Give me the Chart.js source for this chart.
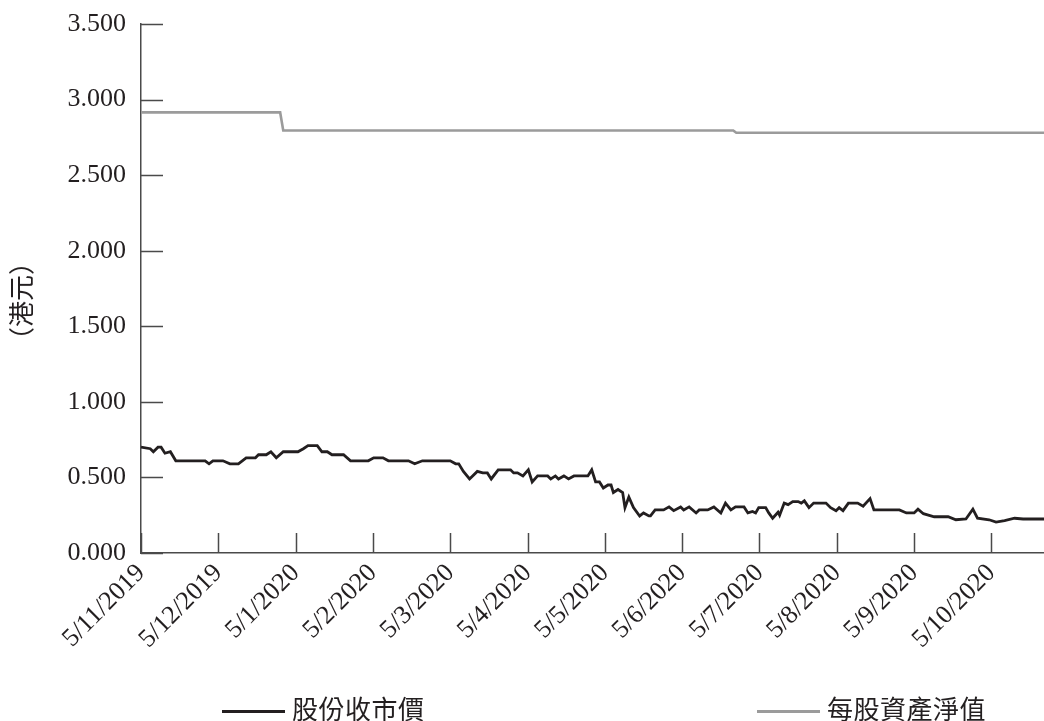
<!DOCTYPE html>
<html>
<head>
<meta charset="utf-8">
<script src="https://cdn.jsdelivr.net/npm/chart.js@4/dist/chart.umd.min.js"></script>
<style>
  body { margin: 0; background: #fff; }
  .wrap { position: relative; width: 1044px; height: 721px; overflow: hidden; }
  .legende { position: absolute; top: 692px; font: 26px "Noto Sans CJK TC", sans-serif; color: #231f20; line-height: 32px; white-space: nowrap; letter-spacing: 0.5px; }
  .legende span.lijn { display: inline-block; width: 63px; height: 3px; vertical-align: middle; margin-right: 7px; }
  .eenheid { position: absolute; left: 20px; top: 301px; transform: translate(-50%, -50%) rotate(-90deg);
    font: 26px "Noto Sans CJK TC", sans-serif; color: #231f20; white-space: nowrap; line-height: 30px; }
</style>
</head>
<body>
<div class="wrap">
  <canvas id="koersChart" width="1044" height="721"></canvas>
  <div class="eenheid">（港元）</div>
  <div class="legende" style="left:222px"><span class="lijn" style="background:#231f20"></span>股份收市價</div>
  <div class="legende" style="left:757px"><span class="lijn" style="background:#9b9b9b"></span>每股資產淨值</div>
</div>
<script>
/* maanden vanaf 5/11/2019, x = maanden sinds begin */
const MONTH_LABELS = ['5/11/2019', '5/12/2019', '5/1/2020', '5/2/2020', '5/3/2020', '5/4/2020',
  '5/5/2020', '5/6/2020', '5/7/2020', '5/8/2020', '5/9/2020', '5/10/2020'];
const X_MAX = 11.68;

/* 股份收市價 */
const PRICE_M = [0, 0.12, 0.16, 0.22, 0.26, 0.31, 0.38, 0.45, 0.83, 0.88, 0.93, 1.06, 1.15, 1.26, 1.36, 1.48, 1.52, 1.62, 1.68, 1.75, 1.84,
  2.03, 2.10, 2.16, 2.28, 2.34, 2.41, 2.47, 2.62, 2.71, 2.94, 3.01, 3.13, 3.20, 3.46, 3.54, 3.64, 4.00,
  4.07, 4.11, 4.17, 4.25, 4.35, 4.42, 4.48, 4.53, 4.62, 4.78, 4.82, 4.87, 4.94, 5.01, 5.06, 5.13, 5.26, 5.30, 5.36, 5.40, 5.47, 5.53, 5.60, 5.78, 5.83, 5.88, 5.93, 5.98,
  6.04, 6.08, 6.11, 6.17, 6.23, 6.26, 6.31, 6.37, 6.45, 6.50, 6.57, 6.59, 6.65, 6.76, 6.83, 6.89, 6.98, 7.02, 7.09, 7.18, 7.22, 7.33, 7.41, 7.50, 7.56, 7.63, 7.69, 7.80, 7.85, 7.91, 7.95,
  7.99, 8.08, 8.12, 8.17, 8.24, 8.26, 8.32, 8.37, 8.43, 8.50, 8.54, 8.58, 8.64, 8.70, 8.86, 8.92, 8.99, 9.03, 9.08, 9.15, 9.27, 9.34, 9.43, 9.48, 9.81, 9.90,
  10.00, 10.05, 10.12, 10.26, 10.44, 10.54, 10.67, 10.76, 10.82, 10.97, 11.06, 11.17, 11.30, 11.41, 11.68];
const PRICE = [0.70, 0.69, 0.67, 0.70, 0.70, 0.66, 0.67, 0.61, 0.61, 0.59, 0.61, 0.61, 0.59, 0.59, 0.63, 0.63, 0.65, 0.65, 0.67, 0.63, 0.67,
  0.67, 0.69, 0.71, 0.71, 0.67, 0.67, 0.65, 0.65, 0.61, 0.61, 0.63, 0.63, 0.61, 0.61, 0.59, 0.61, 0.61,
  0.59, 0.59, 0.54, 0.49, 0.54, 0.53, 0.53, 0.49, 0.55, 0.55, 0.53, 0.53, 0.51, 0.55, 0.47, 0.51, 0.51, 0.49, 0.51, 0.49, 0.51, 0.49, 0.51, 0.51, 0.55, 0.47, 0.47, 0.43,
  0.45, 0.45, 0.40, 0.42, 0.40, 0.30, 0.37, 0.30, 0.245, 0.265, 0.245, 0.245, 0.285, 0.285, 0.305, 0.28, 0.305, 0.285, 0.305, 0.265, 0.285, 0.285, 0.305, 0.265, 0.33, 0.285, 0.305, 0.305, 0.265, 0.275, 0.265,
  0.30, 0.30, 0.265, 0.23, 0.27, 0.25, 0.33, 0.32, 0.34, 0.34, 0.33, 0.345, 0.30, 0.33, 0.33, 0.30, 0.28, 0.30, 0.28, 0.33, 0.33, 0.31, 0.36, 0.285, 0.285, 0.265,
  0.265, 0.29, 0.26, 0.24, 0.24, 0.22, 0.225, 0.29, 0.23, 0.22, 0.205, 0.215, 0.23, 0.225, 0.225];

/* 每股資產淨值 */
const NAV_M = [0, 1.80, 1.84, 7.66, 7.70, 11.68];
const NAV = [2.915, 2.915, 2.795, 2.795, 2.78, 2.78];

const Y_TICKS = [0, 0.5, 1, 1.5, 2, 2.5, 3, 3.5];

const AS_KLEUR = '#4a4a4a';
const SERIF = { family: '"Liberation Serif", "Times New Roman", serif', size: 26 };

/* korte streepjes naar binnen op beide assen */
const binnenTicks = {
  id: 'binnenTicks',
  beforeDatasetsDraw(chart) {
    const { ctx, scales: { x, y }, chartArea: a } = chart;
    ctx.save();
    ctx.strokeStyle = AS_KLEUR;
    ctx.lineWidth = 1.5;
    ctx.beginPath();
    for (const t of y.ticks) {
      const py = Math.round(y.getPixelForValue(t.value)) + 0.5;
      ctx.moveTo(a.left, py);
      ctx.lineTo(a.left + 22, py);
    }
    for (const t of x.ticks) {
      const px = Math.round(x.getPixelForValue(t.value)) + 0.5;
      ctx.moveTo(px, a.bottom);
      ctx.lineTo(px, a.bottom - 20);
    }
    ctx.stroke();
    ctx.restore();
  }
};

new Chart(document.getElementById('koersChart'), {
  type: 'line',
  data: {
    datasets: [
      {
        label: '股份收市價',
        data: PRICE_M.map((m, i) => ({ x: m, y: PRICE[i] })),
        borderColor: '#231f20', borderWidth: 2.8, pointRadius: 0, tension: 0
      },
      {
        label: '每股資產淨值',
        data: NAV_M.map((m, i) => ({ x: m, y: NAV[i] })),
        borderColor: '#9b9b9b', borderWidth: 2.6, pointRadius: 0, tension: 0
      }
    ]
  },
  options: {
    responsive: false,
    animation: false,
    layout: { padding: { top: 24, right: 0, left: 0, bottom: 0 } },
    plugins: { legend: { display: false }, tooltip: { enabled: false } },
    scales: {
      x: {
        type: 'linear', min: 0, max: X_MAX,
        afterBuildTicks: s => { s.ticks = MONTH_LABELS.map((_, i) => ({ value: i })); },
        afterFit: s => { s.height = 168; },
        grid: { display: false, drawTicks: false },
        border: { display: true, color: AS_KLEUR, width: 1.5 },
        ticks: {
          autoSkip: false, maxRotation: 45, minRotation: 45, padding: 5,
          color: '#231f20', font: SERIF,
          callback: v => MONTH_LABELS[v]
        }
      },
      y: {
        min: 0, max: 3.5,
        afterBuildTicks: s => { s.ticks = Y_TICKS.map(v => ({ value: v })); },
        afterFit: s => { s.width = 141; s.paddingTop = 0; s.paddingBottom = 0; },
        grid: { display: false, drawTicks: false },
        border: { display: true, color: AS_KLEUR, width: 1.5 },
        ticks: {
          padding: 15, color: '#231f20', font: SERIF,
          callback: v => v.toFixed(3)
        }
      }
    }
  },
  plugins: [binnenTicks]
});
</script>
</body>
</html>
